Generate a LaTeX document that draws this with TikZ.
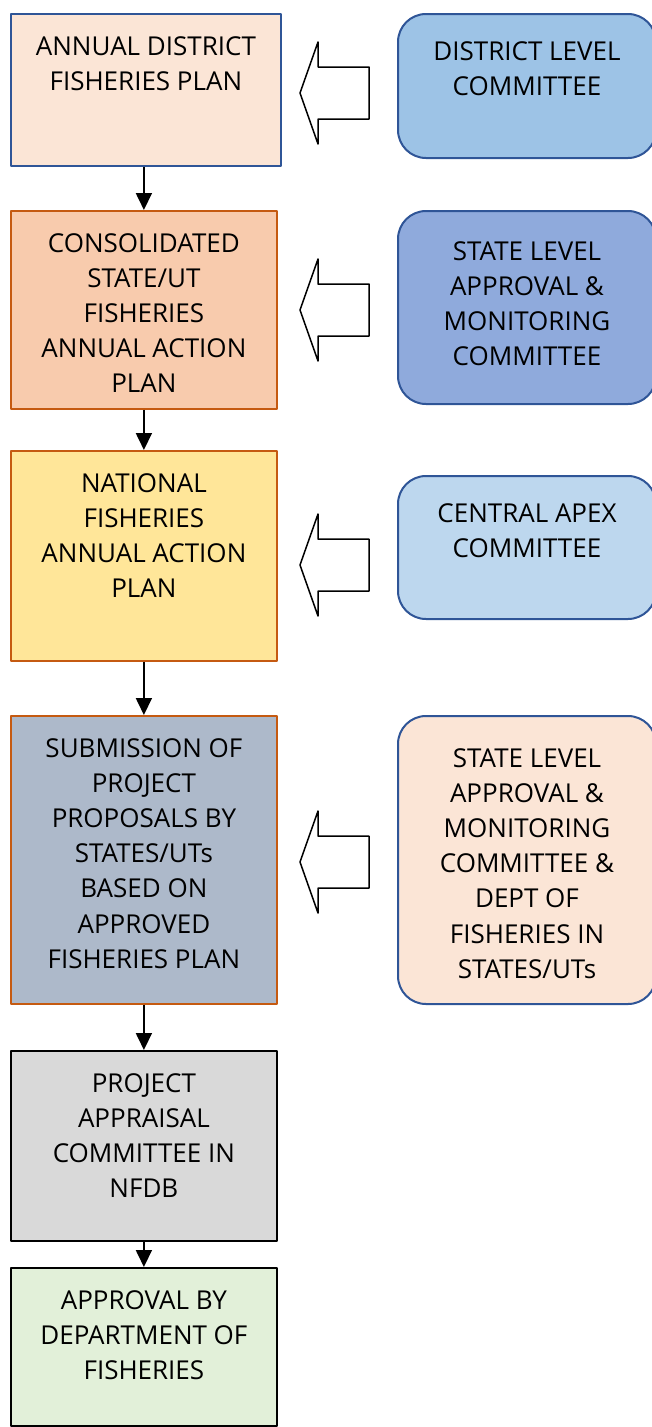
\documentclass[tikz,border=0pt]{standalone}
\usepackage{fontspec}
\setmainfont{Open Sans}
\usetikzlibrary{positioning,arrows.meta}
\definecolor{bordblue}{HTML}{2F5597}
\definecolor{bordorange}{HTML}{C55A11}
\definecolor{peach}{HTML}{FBE5D6}
\definecolor{salmon}{HTML}{F8CBAD}
\definecolor{sand}{HTML}{FFE699}
\definecolor{slate}{HTML}{ADB9CA}
\definecolor{lightgrey}{HTML}{D9D9D9}
\definecolor{mint}{HTML}{E2F0D9}
\definecolor{skyblue}{HTML}{9DC3E6}
\definecolor{midblue}{HTML}{8FAADC}
\definecolor{paleblue}{HTML}{BDD7EE}
\begin{document}
\begin{tikzpicture}[x=1pt,y=-1pt,>={Triangle[width=16pt,length=17pt]},line join=round,
	plan/.style={draw,line width=1.8pt,anchor=north west,minimum width=266pt,inner sep=0pt},
	cmte/.style={draw=bordblue,line width=2pt,rounded corners=28pt,anchor=north west,minimum width=258pt,inner sep=0pt},
	txt/.style={align=center,inner sep=0pt,font=\fontsize{26}{35.2}\selectfont}]
	\useasboundingbox (0,0) rectangle (651,1427);
	% plan column
	\node[plan,draw=bordblue,fill=peach,minimum width=270pt,minimum height=152pt] (b1) at (10,13) {};
	\node[plan,draw=bordorange,fill=salmon,minimum height=198pt] (b2) at (10,210) {};
	\node[plan,draw=bordorange,fill=sand,minimum height=210pt] (b3) at (10,450) {};
	\node[plan,draw=bordorange,fill=slate,minimum height=288pt] (b4) at (10,715) {};
	\node[plan,fill=lightgrey,minimum height=190pt] (b5) at (10,1050) {};
	\node[plan,fill=mint,minimum height=158pt] (b6) at (10,1267) {};
	\node[txt,below=23pt of b1.north] (t1) {ANNUAL DISTRICT\\FISHERIES PLAN};
	\node[txt,below=23pt of b2.north] (t2) {CONSOLIDATED\\STATE/UT\\FISHERIES\\ANNUAL ACTION\\PLAN};
	\node[txt,below=23pt of b3.north] (t3) {NATIONAL\\FISHERIES\\ANNUAL ACTION\\PLAN};
	\node[txt,below=23pt of b4.north] (t4) {SUBMISSION OF\\PROJECT\\PROPOSALS BY\\STATES/UTs\\BASED ON\\APPROVED\\FISHERIES PLAN};
	\node[txt,below=23pt of b5.north] (t5) {PROJECT\\APPRAISAL\\COMMITTEE IN\\NFDB};
	\node[txt,below=23pt of b6.north] (t6) {APPROVAL BY\\DEPARTMENT OF\\FISHERIES};
	\foreach \a/\b in {b1/b2,b2/b3,b3/b4,b4/b5,b5/b6}
		\draw[->,line width=1.8pt] (\a.south -| \b.north) -- (\b.north);
	% committee column
	\node[cmte,fill=skyblue,minimum height=144pt] (r1) at (397,13) {};
	\node[cmte,fill=midblue,minimum height=193pt] (r2) at (397,210) {};
	\node[cmte,fill=paleblue,minimum height=143pt] (r3) at (397,475) {};
	\node[cmte,fill=peach,minimum height=288pt] (r4) at (397,715) {};
	\node[txt,below=28pt of r1.north] (s1) {DISTRICT LEVEL\\COMMITTEE};
	\node[txt,below=31pt of r2.north] (s2) {STATE LEVEL\\APPROVAL \&\\MONITORING\\COMMITTEE};
	\node[txt,below=28pt of r3.north] (s3) {CENTRAL APEX\\COMMITTEE};
	\node[txt,below=33pt of r4.north] (s4) {STATE LEVEL\\APPROVAL \&\\MONITORING\\COMMITTEE \&\\DEPT OF\\FISHERIES IN\\STATES/UTs};
	% block arrows
	\foreach \y in {93,310,565,862}
		\draw[line width=1.5pt,fill=white] (300,\y) -- ++(18,-51) -- ++(0,25) -- ++(51,0) -- ++(0,52) -- ++(-51,0) -- ++(0,25) -- cycle;
\end{tikzpicture}
\end{document}
